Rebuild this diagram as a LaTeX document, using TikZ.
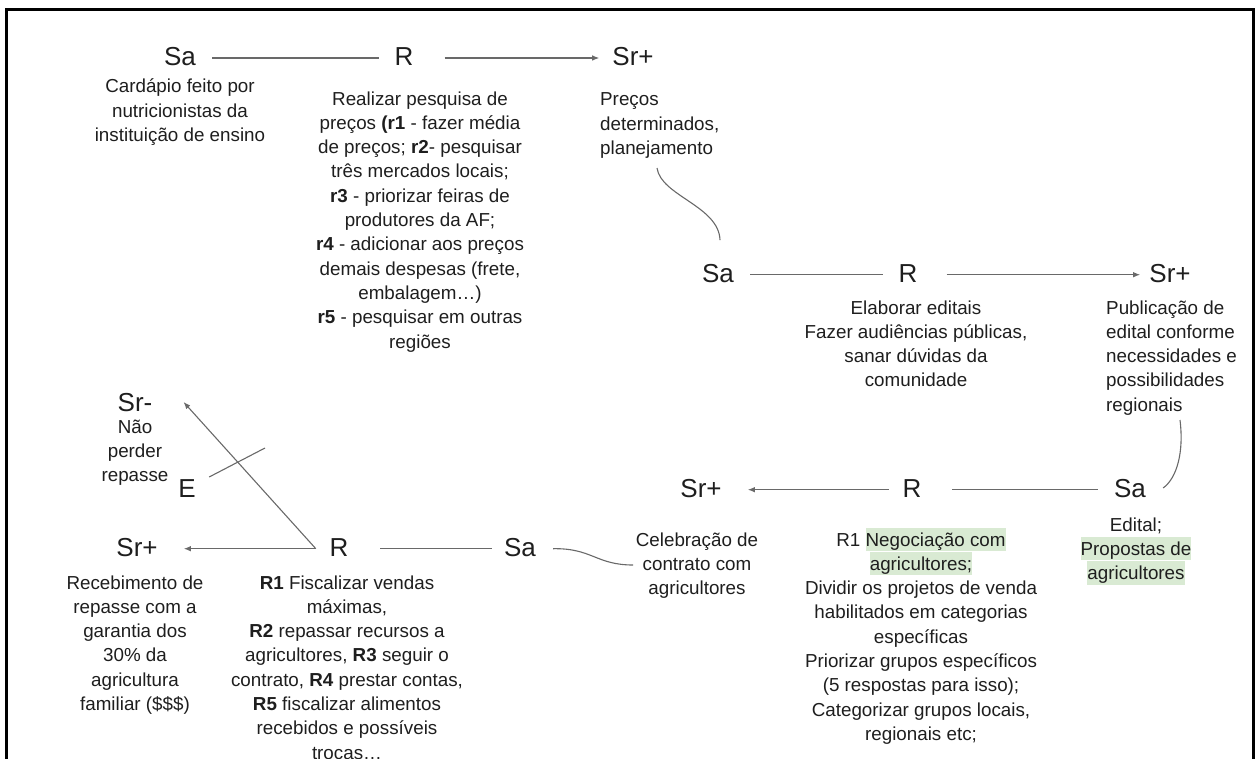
\documentclass[tikz,border=0pt]{standalone}
\usepackage{fontspec}
\setmainfont{Liberation Sans}
\usetikzlibrary{arrows.meta}
\definecolor{txtc}{RGB}{30,30,30}
\definecolor{linkc}{RGB}{105,105,105}
\definecolor{hlgreen}{RGB}{217,234,211}
\newcommand{\hlg}[1]{{\setlength{\fboxsep}{0pt}\colorbox{hlgreen}{\rule[-5pt]{0pt}{23.5pt}#1}}}
\tikzset{
  lbl/.style={font=\fontsize{26}{30}\selectfont, text=txtc, inner sep=0pt, text height=18.6pt, text depth=4pt},
  txt/.style={font=\fontsize{18.8}{24.3}\selectfont, text=txtc, inner sep=0pt, align=center, anchor=base},
  txtl/.style={font=\fontsize{18.8}{24.3}\selectfont, text=txtc, inner sep=0pt, align=left, anchor=base west},
  link/.style={draw=linkc, line width=1.1pt},
  arr/.style={link, -{Latex[length=7pt,width=5.5pt]}},
  frame/.style={draw=black, line width=3pt}
}
\begin{document}
\begin{tikzpicture}[x=1pt,y=-1pt]
\useasboundingbox (0,0) rectangle (1257,759);
\begin{scope}
\clip (0,0) rectangle (1257,759);
\draw[frame] (6.5,775) -- (6.5,9.5) -- (1253,9.5) -- (1253,775);
\end{scope}

% Row 1
\node[lbl] (sa1) at (180,58) {Sa};
\node[lbl] (r1) at (404,58) {R};
\node[lbl] (sr1) at (633,58) {Sr+};
\draw[link] ([xshift=16pt]sa1.east) -- ([xshift=-15pt]r1.west);
\draw[arr] ([xshift=31pt]r1.east) -- ([xshift=-13pt]sr1.west);
\node[txt] (tsa1) at (180,141.6) {Cardápio feito por\\nutricionistas da\\instituição de ensino};
\node[txt] (tr1) at (420,348) {Realizar pesquisa de\\preços \textbf{(r1} - fazer média\\de preços; \textbf{r2}- pesquisar\\três mercados locais;\\\textbf{r3} - priorizar feiras de\\produtores da AF;\\\textbf{r4} - adicionar aos preços\\demais despesas (frete,\\embalagem…)\\\textbf{r5} - pesquisar em outras\\regiões};
\node[txtl] (tsr1) at (600,154.6) {Preços\\determinados,\\planejamento};

% Row 2
\node[lbl] (sa2) at (718,274.7) {Sa};
\node[lbl] (r2) at (908,274.7) {R};
\node[lbl] (sr2) at (1170,274.7) {Sr+};
\draw[link] ([xshift=16pt]sa2.east) -- ([xshift=-15pt]r2.west);
\draw[arr] ([xshift=29pt]r2.east) -- ([xshift=-9pt]sr2.west);
\node[txt] (tr2) at (916,386.9) {Elaborar editais\\Fazer audiências públicas,\\sanar dúvidas da\\comunidade};
\node[txtl] (tsr2) at (1106,411.2) {Publicação de\\edital conforme\\necessidades e\\possibilidades\\regionais};
\coordinate (c1a) at (657,168);
\draw[link] (c1a) .. controls (661,196) and (719,206) .. ([xshift=2pt,yshift=23pt]sa2.north);

% Row 3
\node[lbl] (sr3) at (701,489.7) {Sr+};
\node[lbl] (r3) at (912,489.7) {R};
\node[lbl] (sa3) at (1130,489.7) {Sa};
\draw[arr] ([xshift=-13.6pt]r3.west) -- ([xshift=26pt]sr3.east);
\draw[link] ([xshift=30.6pt]r3.east) -- ([xshift=-16pt]sa3.west);
\node[txt] (tsa3) at (1136,579.6) {Edital;\\\hlg{Propostas de}\\\hlg{agricultores}};
\node[txt] (tr3) at (921,740.4) {R1 \hlg{Negociação com}\\\hlg{agricultores;}\\Dividir os projetos de venda\\habilitados em categorias\\específicas\\Priorizar grupos específicos\\(5 respostas para isso);\\Categorizar grupos locais,\\regionais etc;};
\node[txt] (tsr3) at (697,594.6) {Celebração de\\contrato com\\agricultores};
\coordinate (c2a) at (1180,420);
\draw[link] (c2a) .. controls (1184,452) and (1177,478) .. ([xshift=17pt,yshift=1.7pt]sa3.east);

% Row 4
\node[lbl] (sr4) at (137,548.7) {Sr+};
\node[lbl] (r4) at (339,548.7) {R};
\node[lbl] (sa4) at (520,548.7) {Sa};
\node[lbl] (srm) at (135,403.7) {Sr-};
\node[lbl] (e4) at (187,489.7) {E};
\coordinate (j4) at ([xshift=-13.6pt]r4.west);
\draw[arr] (j4) -- ([xshift=26pt]sr4.east);
\draw[arr] (j4) -- ([xshift=31pt,yshift=1.7pt]srm.east);
\draw[link] ([xshift=31.6pt]r4.east) -- ([xshift=-12pt]sa4.west);
\coordinate (ecross) at (265,448);
\draw[link] ([xshift=13.3pt,yshift=12.7pt]e4.east) -- (ecross);
\coordinate (c3b) at (633,565);
\draw[link] ([xshift=17pt]sa4.east) .. controls (592,548) and (596,565) .. (c3b);
\node[txt] (nao) at (135,481.6) {Não\\perder\\repasse};
\node[txt] (tsr4) at (135,710.5) {Recebimento de\\repasse com a\\garantia dos\\30\% da\\agricultura\\familiar (\$\$\$)};
\node[txt] (tr4) at (347,759.1) {\textbf{R1} Fiscalizar vendas\\máximas,\\\textbf{R2} repassar recursos a\\agricultores, \textbf{R3} seguir o\\contrato, \textbf{R4} prestar contas,\\\textbf{R5} fiscalizar alimentos\\recebidos e possíveis\\trocas…};
\end{tikzpicture}
\end{document}
